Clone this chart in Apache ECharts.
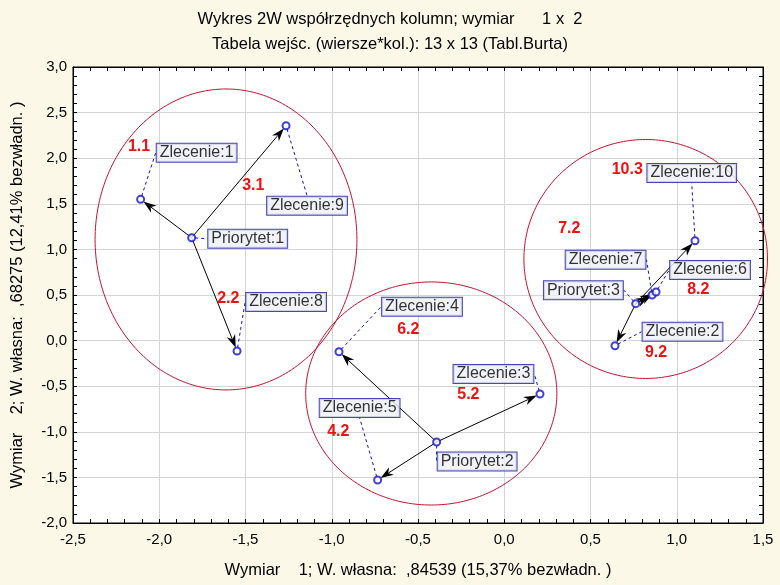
<!DOCTYPE html>
<html>
<head>
<meta charset="utf-8">
<script src="https://cdn.jsdelivr.net/npm/echarts@6/dist/echarts.min.js"></script>
<style>
html,body{margin:0;padding:0;background:#fcf8e8;}
#chart{width:780px;height:585px;}
</style>
</head>
<body>
<div id="chart"></div>
<script>
// ---- data ----
const titleLine1 = 'Wykres 2W współrzędnych kolumn; wymiar      1 x  2';
const titleLine2 = 'Tabela wejśc. (wiersze*kol.): 13 x 13 (Tabl.Burta)';
const xAxisName = 'Wymiar    1; W. własna:  ,84539 (15,37% bezwładn. )';
const yAxisName = 'Wymiar    2; W. własna:  ,68275 (12,41% bezwładn. )';

const pointNames = ['Priorytet:1','Zlecenie:1','Zlecenie:9','Zlecenie:8',
                    'Priorytet:2','Zlecenie:4','Zlecenie:3','Zlecenie:5',
                    'Priorytet:3','Zlecenie:10','Zlecenie:7','Zlecenie:6','Zlecenie:2'];
const pointX = [-1.812,-2.108,-1.265,-1.549, -0.392,-0.958,0.207,-0.734, 0.762,1.106,0.857,0.880,0.642];
const pointY = [ 1.128, 1.549, 2.356,-0.114, -1.112,-0.122,-0.586,-1.528, 0.405,1.095,0.500,0.533,-0.056];

const arrowFrom = ['Priorytet:1','Priorytet:1','Priorytet:1','Priorytet:2','Priorytet:2','Priorytet:2','Priorytet:3','Priorytet:3','Priorytet:3','Priorytet:3'];
const arrowTo   = ['Zlecenie:1','Zlecenie:9','Zlecenie:8','Zlecenie:4','Zlecenie:3','Zlecenie:5','Zlecenie:10','Zlecenie:7','Zlecenie:6','Zlecenie:2'];

const groupCx = [-1.613, -0.423, 0.820];
const groupCy = [ 1.109, -0.580, 0.895];
const groupRx = [ 0.759,  0.728, 0.706];
const groupRy = [ 1.650,  1.223, 1.310];

const tagText = ['1.1','3.1','2.2','6.2','5.2','4.2','10.3','7.2','8.2','9.2'];
const tagX = [-2.117,-1.455,-1.600,-0.556,-0.208,-0.962,0.713,0.377,1.125,0.880];
const tagY = [ 2.123, 1.695, 0.464, 0.116,-0.596,-0.999,1.878,1.231,0.555,-0.128];

// ---- layout (pixel offsets of label boxes from their points) ----
const labelShift = {
  'Priorytet:1':[56,1], 'Zlecenie:1':[56,-46.5], 'Zlecenie:9':[21,80], 'Zlecenie:8':[49,-49],
  'Priorytet:2':[40.5,19.5], 'Zlecenie:4':[83,-45], 'Zlecenie:3':[-46.5,-20], 'Zlecenie:5':[-18,-72],
  'Priorytet:3':[-52.3,-13.5], 'Zlecenie:10':[-3.3,-67.7], 'Zlecenie:7':[-46.5,-35.3],
  'Zlecenie:6':[54,-22], 'Zlecenie:2':[67.5,-14]
};

const FONT = 'Arial, "Liberation Sans", sans-serif';
const fmt = v => v.toFixed(1).replace('.', ',');

const idx = n => pointNames.indexOf(n);
const arrowData = arrowFrom.map((f, i) => {
  const a = idx(f), b = idx(arrowTo[i]);
  return [pointX[a], pointY[a], pointX[b], pointY[b]];
});
const ellipseData = groupCx.map((c, i) => [c, groupCy[i], groupRx[i], groupRy[i]]);
const tagData = tagText.map((t, i) => [tagX[i], tagY[i], t]);
const pointData = pointNames.map((n, i) => ({name: n, value: [pointX[i], pointY[i]]}));

const chart = echarts.init(document.getElementById('chart'), null, {renderer: 'canvas'});

const axisCommon = {
  type: 'value',
  interval: 0.5,
  axisLine: {show: true, onZero: false, lineStyle: {color: '#000', width: 1}},
  axisTick: {show: true, inside: true, length: 4, lineStyle: {color: '#000'}},
  minorTick: {show: true, splitNumber: 5, length: 4, lineStyle: {color: '#000'}},
  minorSplitLine: {show: false}
};

chart.setOption({
  animation: false,
  backgroundColor: '#fcf8e8',
  title: [
    {text: titleLine1, left: 'center', top: 6, textStyle: {fontFamily: FONT, fontSize: 16.5, fontWeight: 'normal', color: '#000'}},
    {text: titleLine2, left: 'center', top: 31, textStyle: {fontFamily: FONT, fontSize: 16.5, fontWeight: 'normal', color: '#000'}}
  ],
  grid: {left: 73, right: 17, top: 67, bottom: 62, show: true, backgroundColor: '#fff', borderColor: '#000', borderWidth: 1},
  xAxis: [
    Object.assign({}, axisCommon, {
      min: -2.5, max: 1.5, position: 'bottom',
      splitLine: {show: true, lineStyle: {color: '#d4d4d4', width: 1}},
      axisLabel: {show: true, formatter: fmt, margin: 9, fontFamily: FONT, fontSize: 15, color: '#000'},
      name: xAxisName, nameLocation: 'middle', nameGap: 39,
      nameTextStyle: {fontFamily: FONT, fontSize: 16.5, color: '#000'}
    }),
    Object.assign({}, axisCommon, {
      min: -2.5, max: 1.5, position: 'top',
      splitLine: {show: false}, axisLabel: {show: false}
    })
  ],
  yAxis: [
    Object.assign({}, axisCommon, {
      min: -2.0, max: 3.0, position: 'left',
      splitLine: {show: true, lineStyle: {color: '#d4d4d4', width: 1}},
      axisLabel: {show: true, formatter: fmt, margin: 6, fontFamily: FONT, fontSize: 15, color: '#000'},
      name: yAxisName, nameLocation: 'middle', nameGap: 47, nameRotate: 90,
      nameTextStyle: {fontFamily: FONT, fontSize: 16.5, color: '#000'}
    }),
    Object.assign({}, axisCommon, {
      min: -2.0, max: 3.0, position: 'right',
      splitLine: {show: false}, axisLabel: {show: false}
    })
  ],
  series: [
    {
      type: 'custom', name: 'groups', xAxisIndex: 0, yAxisIndex: 0, clip: false, silent: true,
      data: ellipseData, encode: {x: 0, y: 1},
      renderItem: function (params, api) {
        const c = api.coord([api.value(0), api.value(1)]);
        const s = api.size([api.value(2), api.value(3)]);
        const pts = [];
        for (let k = 0; k < 240; k++) {
          const t = k / 240 * Math.PI * 2;
          pts.push([c[0] + s[0] * Math.cos(t), c[1] + s[1] * Math.sin(t)]);
        }
        return {type: 'polygon', shape: {points: pts}, style: {fill: 'none', stroke: '#c8102e', lineWidth: 1}};
      },
      z: 1
    },
    {
      type: 'custom', name: 'arrows', xAxisIndex: 0, yAxisIndex: 0, clip: false, silent: true,
      data: arrowData, encode: {x: [0, 2], y: [1, 3]},
      renderItem: function (params, api) {
        const p1 = api.coord([api.value(0), api.value(1)]);
        const p2 = api.coord([api.value(2), api.value(3)]);
        const dx = p2[0] - p1[0], dy = p2[1] - p1[1];
        const len = Math.sqrt(dx * dx + dy * dy) || 1;
        const ux = dx / len, uy = dy / len, px = -uy, py = ux;
        const tip = [p2[0] - ux * 3.5, p2[1] - uy * 3.5];
        const L = 13, W = 4.5;
        const back = [tip[0] - ux * L, tip[1] - uy * L];
        const notch = [tip[0] - ux * L * 0.7, tip[1] - uy * L * 0.7];
        return {
          type: 'group',
          children: [
            {type: 'line', shape: {x1: p1[0], y1: p1[1], x2: notch[0], y2: notch[1]}, style: {stroke: '#000', lineWidth: 1}},
            {type: 'polygon', shape: {points: [tip, [back[0] + px * W, back[1] + py * W], notch, [back[0] - px * W, back[1] - py * W]]}, style: {fill: '#000'}}
          ]
        };
      },
      z: 2
    },
    {
      type: 'scatter', name: 'points', xAxisIndex: 0, yAxisIndex: 0,
      data: pointData,
      symbol: 'emptyCircle', symbolSize: 7,
      itemStyle: {color: '#1010d0', borderWidth: 1},
      label: {
        show: true, position: 'inside', formatter: '{b}',
        fontFamily: FONT, fontSize: 16, lineHeight: 16, color: '#000',
        backgroundColor: '#edf0f7', borderColor: '#1a1a9c', borderWidth: 1,
        padding: [1, 3, 1, 3]
      },
      labelLayout: function (params) {
        const name = pointNames[params.dataIndex];
        const s = labelShift[name] || [0, 0];
        return {dx: s[0], dy: s[1]};
      },
      labelLine: {show: true, lineStyle: {color: '#1010d0', width: 1, type: [3, 3]}},
      emphasis: {disabled: true},
      z: 3
    },
    {
      type: 'custom', name: 'tags', xAxisIndex: 0, yAxisIndex: 0, clip: false, silent: true,
      data: tagData, encode: {x: 0, y: 1},
      renderItem: function (params, api) {
        const c = api.coord([api.value(0), api.value(1)]);
        return {type: 'text', x: c[0], y: c[1], style: {text: tagText[params.dataIndex], fill: '#f01010', font: 'bold 16px ' + FONT, align: 'center', verticalAlign: 'middle'}};
      },
      z: 4
    }
  ]
});
</script>
</body>
</html>
